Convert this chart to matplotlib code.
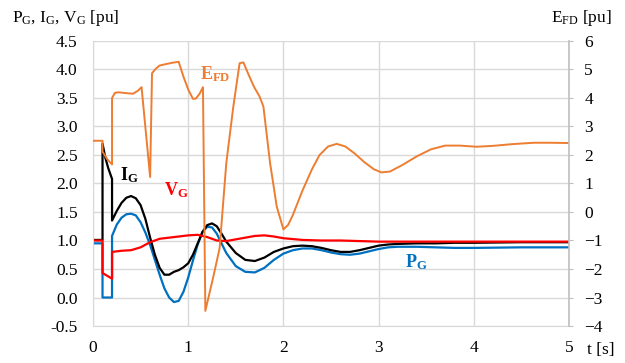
import matplotlib
matplotlib.use("Agg")
import matplotlib.pyplot as plt

plt.rcParams['font.family'] = ['Liberation Serif', 'DejaVu Serif']
plt.rcParams['mathtext.fontset'] = 'custom'
plt.rcParams['mathtext.rm'] = 'Liberation Serif'
plt.rcParams['mathtext.it'] = 'Liberation Serif'
plt.rcParams['mathtext.bf'] = 'Liberation Serif:bold'

# generator current
t_ig = [0, 0.1, 0.1, 0.13, 0.16, 0.2, 0.2, 0.25, 0.3, 0.35, 0.4, 0.45, 0.5, 0.55, 0.6,
        0.65, 0.7, 0.75, 0.8, 0.85, 0.9, 0.95, 1.0, 1.05, 1.1, 1.15, 1.2, 1.25, 1.3, 1.35,
        1.4, 1.5, 1.6, 1.7, 1.8, 1.9, 2.0, 2.1, 2.2, 2.3, 2.4, 2.5, 2.6, 2.7, 2.8, 2.9,
        3.0, 3.1, 3.2, 3.4, 3.6, 3.8, 4.0, 4.5, 5.0]
ig = [1.01, 1.01, 2.70, 2.45, 2.27, 2.08, 1.35, 1.52, 1.66, 1.75, 1.78, 1.74, 1.62, 1.38, 1.05,
      0.75, 0.52, 0.40, 0.40, 0.45, 0.48, 0.53, 0.60, 0.75, 0.95, 1.15, 1.27, 1.30, 1.25, 1.12,
      0.98, 0.78, 0.66, 0.64, 0.70, 0.80, 0.86, 0.90, 0.91, 0.90, 0.87, 0.83, 0.80, 0.80, 0.83, 0.87,
      0.91, 0.93, 0.94, 0.95, 0.95, 0.96, 0.96, 0.97, 0.97]

# active power
t_pg = [0, 0.1, 0.1, 0.2, 0.2, 0.25, 0.3, 0.35, 0.4, 0.45, 0.5, 0.55, 0.6, 0.65, 0.7, 0.75,
        0.8, 0.85, 0.9, 0.95, 1.0, 1.05, 1.1, 1.15, 1.2, 1.25, 1.3, 1.35, 1.4, 1.5, 1.6, 1.7,
        1.8, 1.9, 2.0, 2.1, 2.2, 2.3, 2.4, 2.5, 2.6, 2.7, 2.8, 2.9, 3.0, 3.1, 3.2, 3.4, 3.6,
        3.8, 4.0, 4.5, 5.0]
pg = [0.95, 0.95, 0.0, 0.0, 1.08, 1.28, 1.40, 1.46, 1.47, 1.44, 1.32, 1.14, 0.92, 0.66, 0.40, 0.16,
      0.00, -0.08, -0.06, 0.10, 0.35, 0.65, 0.93, 1.15, 1.24, 1.23, 1.12, 0.95, 0.78, 0.55, 0.45, 0.44,
      0.52, 0.66, 0.77, 0.83, 0.86, 0.86, 0.83, 0.79, 0.76, 0.75, 0.77, 0.81, 0.85, 0.88, 0.89, 0.89, 0.88,
      0.87, 0.87, 0.88, 0.88]

# terminal voltage
t_vg = [0, 0.1, 0.1, 0.2, 0.2, 0.3, 0.4, 0.5, 0.6, 0.7, 0.8, 0.9, 1.0, 1.1, 1.2, 1.3, 1.4,
        1.5, 1.6, 1.7, 1.8, 1.9, 2.0, 2.2, 2.4, 2.6, 2.8, 3.0, 3.5, 4.0, 4.5, 5.0]
vg = [1.0, 1.0, 0.43, 0.33, 0.80, 0.82, 0.83, 0.88, 0.97, 1.03, 1.05, 1.07, 1.09, 1.10, 1.06, 1.00, 0.99,
      1.02, 1.05, 1.08, 1.09, 1.07, 1.04, 1.01, 1.00, 1.00, 0.99, 0.98, 0.98, 0.98, 0.98, 0.98]

# field voltage (right axis)
t_efd = [0, 0.1, 0.1, 0.15, 0.2, 0.2, 0.23, 0.27, 0.35, 0.42, 0.47, 0.51, 0.6, 0.62, 0.66, 0.70,
         0.78, 0.84, 0.9, 0.95, 1.0, 1.05, 1.08, 1.12, 1.155, 1.18, 1.264, 1.33, 1.40, 1.474, 1.54,
         1.58, 1.63, 1.69, 1.75, 1.79, 1.86, 1.93, 2.0, 2.05, 2.1, 2.2, 2.3, 2.38, 2.47, 2.56, 2.65,
         2.75, 2.85, 2.95, 3.03, 3.12, 3.25, 3.4, 3.55, 3.7, 3.85, 4.03, 4.2, 4.4, 4.63, 4.8, 5.0]
efd = [2.5, 2.5, 2.12, 1.85, 1.67, 4.0, 4.18, 4.2, 4.17, 4.15, 4.25, 4.38, 1.23, 4.87, 5.03, 5.14,
       5.2, 5.24, 5.27, 4.75, 4.3, 3.97, 3.98, 4.15, 4.38, -3.47, -2.27, -1.27, 1.71, 3.70, 5.22,
       5.25, 4.85, 4.4, 4.05, 3.7, 1.72, 0.19, -0.61, -0.45, -0.1, 0.75, 1.5, 2.0, 2.3, 2.39, 2.3,
       2.05, 1.75, 1.5, 1.39, 1.42, 1.65, 1.95, 2.2, 2.33, 2.33, 2.29, 2.32, 2.38, 2.43, 2.43, 2.42]

left_ticks = [-0.5, 0.0, 0.5, 1.0, 1.5, 2.0, 2.5, 3.0, 3.5, 4.0, 4.5]
right_ticks = [-4, -3, -2, -1, 0, 1, 2, 3, 4, 5, 6]
x_ticks = [0, 1, 2, 3, 4, 5]

c_orange = '#ED7D31'
c_blue = '#0070C0'
c_red = '#FF0000'
grid_c = '#d9d9d9'

fig = plt.figure(figsize=(6.25, 3.63), dpi=100)
ax = fig.add_axes([93 / 625, 1 - 326 / 363, 476 / 625, 285 / 363])
ax2 = ax.twinx()

ax.plot(t_pg, pg, color=c_blue, lw=1.6)
ax.plot(t_ig, ig, color='black', lw=1.6)
ax.plot(t_vg, vg, color=c_red, lw=1.6)
ax2.plot(t_efd, efd, color=c_orange, lw=1.4)

ax.set_xlim(0, 5)
ax.set_ylim(-0.5, 4.5)
ax2.set_ylim(-4, 6)
ax.set_xticks(x_ticks)
ax.set_yticks(left_ticks)
ax.set_yticklabels(['%.1f' % v for v in left_ticks])
ax2.set_yticks(right_ticks)

ax.grid(True, color=grid_c, lw=1)
ax.set_axisbelow(True)
for s in ['top', 'right']:
    ax.spines[s].set_visible(False)
ax.spines['left'].set_color(grid_c)
ax.spines['bottom'].set_color(grid_c)
for s in ['top', 'left', 'bottom']:
    ax2.spines[s].set_visible(False)
ax2.spines['right'].set_color('#bfbfbf')
ax2.spines['right'].set_linewidth(1.2)

ax.tick_params(axis='both', length=0, labelsize=12.5)
ax.tick_params(axis='y', pad=11)
ax.tick_params(axis='x', pad=10)
ax2.tick_params(axis='y', length=3, color='#bfbfbf', pad=8, labelsize=12.5)

# series labels
ax.text(0.28, 2.15, r'$\mathbf{I_G}$', fontsize=13, color='black', va='center')
ax.text(0.75, 1.88, r'$\mathbf{V_G}$', fontsize=13, color=c_red, va='center')
ax.text(1.12, 3.92, r'$\mathbf{E_{FD}}$', fontsize=13, color=c_orange, va='center')
ax.text(3.28, 0.62, r'$\mathbf{P_G}$', fontsize=13, color=c_blue, va='center')

# axis titles
fig.text(12 / 625, 1 - 18 / 363, r'P$_\mathrm{G}$, I$_\mathrm{G}$, V$_\mathrm{G}$ [pu]',
         fontsize=12.5, va='center')
fig.text(612 / 625, 1 - 18 / 363, r'E$_\mathrm{FD}$ [pu]', fontsize=12.5, va='center', ha='right')
fig.text(587 / 625, 1 - 350 / 363, 't [s]', fontsize=12.5, va='center')

fig.savefig('out.png', dpi=100)
